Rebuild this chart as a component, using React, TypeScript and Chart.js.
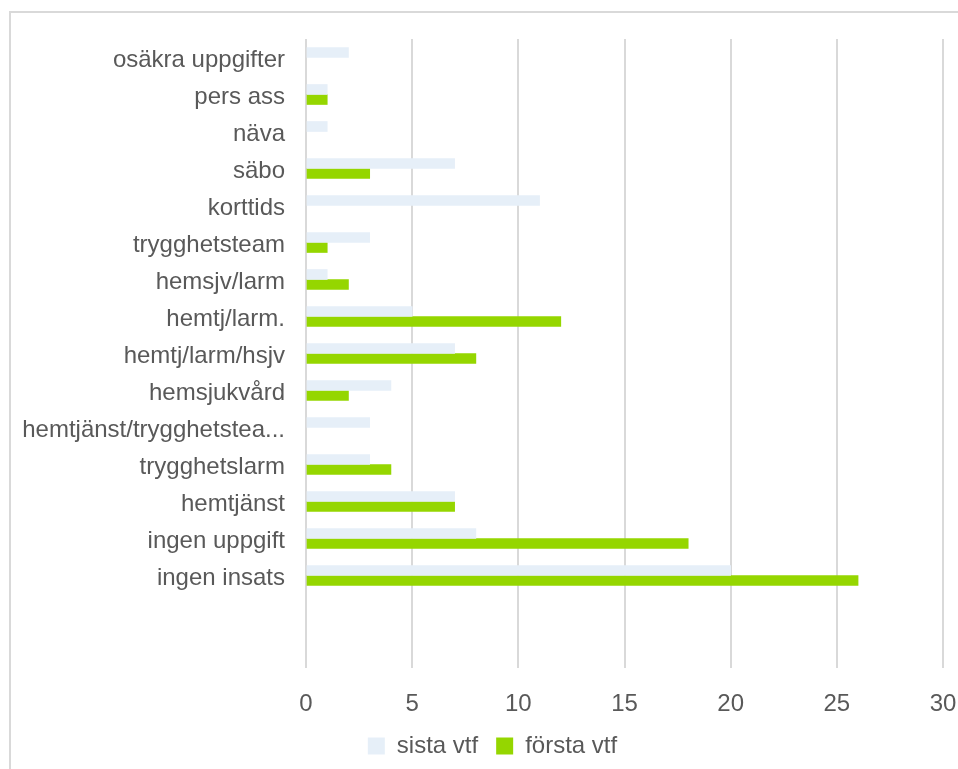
import React, { useEffect, useRef } from "react";
import { Chart, registerables } from "chart.js";

Chart.register(...registerables);

const categories = [
  "osäkra uppgifter",
  "pers ass",
  "näva",
  "säbo",
  "korttids",
  "trygghetsteam",
  "hemsjv/larm",
  "hemtj/larm.",
  "hemtj/larm/hsjv",
  "hemsjukvård",
  "hemtjänst/trygghetstea...",
  "trygghetslarm",
  "hemtjänst",
  "ingen uppgift",
  "ingen insats",
  "",
  "",
];

const sistaVtf = [2, 1, 1, 7, 11, 3, 1, 5, 7, 4, 3, 3, 7, 8, 20, null, null];
const forstaVtf = [null, 1, null, 3, null, 1, 2, 12, 8, 2, null, 4, 7, 18, 26, null, null];

const xTicks = [0, 5, 10, 15, 20, 25, 30];

const FONT = "'Liberation Sans', Arial, sans-serif";
const TEXT = "#595959";
const GRID = "#d9d9d9";

export default function App() {
  const ref = useRef<HTMLCanvasElement | null>(null);

  useEffect(() => {
    if (!ref.current) return;
    const chart = new Chart(ref.current, {
      type: "bar",
      data: {
        labels: categories,
        datasets: [
          {
            label: "sista vtf",
            data: sistaVtf,
            backgroundColor: "#E6EFF8",
            barThickness: 10,
          },
          {
            label: "första vtf",
            data: forstaVtf,
            backgroundColor: "#95D600",
            barThickness: 10,
          },
        ],
      },
      options: {
        indexAxis: "y",
        responsive: false,
        animation: false,
        devicePixelRatio: 1,
        layout: { padding: { top: 39, right: -6, bottom: 1, left: 21 } },
        plugins: {
          tooltip: { enabled: false },
          legend: {
            position: "bottom",
            labels: {
              color: TEXT,
              font: { family: FONT, size: 24 },
              boxWidth: 17,
              boxHeight: 17,
              padding: 18,
            },
          },
        },
        scales: {
          x: {
            min: 0,
            max: 30,
            afterBuildTicks: (scale: any) => {
              scale.ticks = xTicks.map((v) => ({ value: v }));
            },
            afterFit: (scale: any) => {
              scale.paddingRight = 15;
              scale.paddingLeft = 0;
              scale.height = 48;
            },
            grid: { color: GRID, lineWidth: 2, drawTicks: false },
            border: { display: false },
            ticks: {
              color: TEXT,
              font: { family: FONT, size: 24 },
              padding: 22,
            },
          },
          y: {
            grid: { display: false, drawTicks: false },
            border: { display: false },
            afterFit: (scale: any) => {
              scale.width = 285;
            },
            ticks: {
              color: TEXT,
              font: { family: FONT, size: 24 },
              padding: 21,
              labelOffset: 3,
              autoSkip: false,
            },
          },
        },
      },
    });
    return () => chart.destroy();
  }, []);

  return (
    <div style={{ position: "fixed", inset: 0, overflow: "hidden", background: "#fff" }}>
      <div
        style={{
          position: "absolute",
          left: 9,
          top: 11,
          width: 1000,
          height: 1000,
          border: `2px solid ${GRID}`,
        }}
      />
      <canvas
        ref={ref}
        width={958}
        height={769}
        style={{ position: "absolute", left: 0, top: 0, width: 958, height: 769 }}
      />
    </div>
  );
}
